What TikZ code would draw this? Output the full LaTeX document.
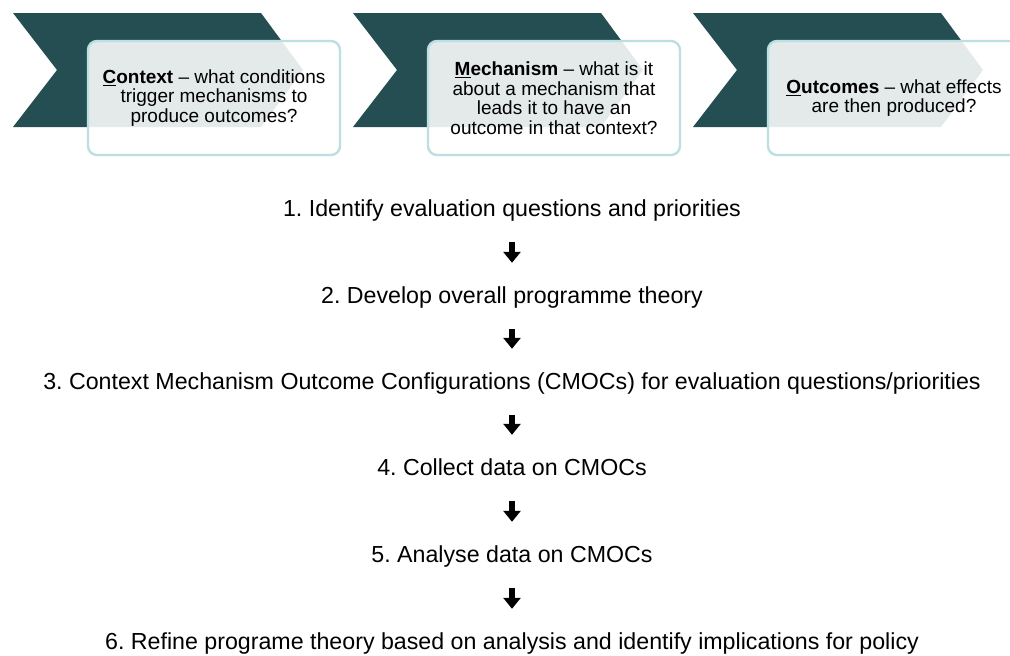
\documentclass[tikz,border=0pt]{standalone}
\usepackage{fontspec}
\setmainfont{Liberation Sans}
\usetikzlibrary{arrows.meta}
\definecolor{chevteal}{HTML}{244E51}
\definecolor{boxrim}{HTML}{BCDFE2}
\frenchspacing

\begin{document}
\begin{tikzpicture}[x=1pt, y=-1pt,
    chevron/.style={fill=chevteal},
    cmobox/.style={draw=boxrim, line width=2.4pt, fill=white, fill opacity=0.88, text opacity=1,
        rounded corners=9pt, minimum width=252pt, minimum height=114pt, align=center,
        font=\fontsize{19}{19.5}\selectfont},
    stepnode/.style={inner sep=0pt, text height=16pt, text depth=4pt, font=\fontsize{23.2}{26}\selectfont},
    steparrow/.style={line width=6pt, -{Triangle[width=17pt, length=11pt]}, shorten <=22pt, shorten >=24pt}]

    \clip (0,0) rectangle (1010,656);
    \fill[white] (0,0) rectangle (1010,656);

    \fill[chevron] (13,13) -- (261,13) -- (303,70) -- (261,127) -- (13,127) -- (57,70) -- cycle;
    \fill[chevron] (353,13) -- (601,13) -- (643,70) -- (601,127) -- (353,127) -- (397,70) -- cycle;
    \fill[chevron] (693,13) -- (941,13) -- (983,70) -- (941,127) -- (693,127) -- (737,70) -- cycle;

    \node[cmobox] (context) at (214,98) {\textbf{\underline{C}ontext} -- what conditions\\trigger mechanisms to\\produce outcomes?};
    \node[cmobox] (mechanism) at (554,98) {\textbf{\underline{M}echanism} -- what is it\\about a mechanism that\\leads it to have an\\outcome in that context?};
    \node[cmobox] (outcomes) at (894,98) {\textbf{\underline{O}utcomes} -- what effects\\are then produced?};

    \node[stepnode] (s1) at (512,210) {1. Identify evaluation questions and priorities};
    \node[stepnode] (s2) at (512,297) {2. Develop overall programme theory};
    \node[stepnode] (s3) at (512,383) {3. Context Mechanism Outcome Configurations (CMOCs) for evaluation questions/priorities};
    \node[stepnode] (s4) at (512,469) {4. Collect data on CMOCs};
    \node[stepnode] (s5) at (512,556) {5. Analyse data on CMOCs};
    \node[stepnode] (s6) at (512,643) {6. Refine programe theory based on analysis and identify implications for policy};

    \draw[steparrow] (s1) -- (s2);
    \draw[steparrow] (s2) -- (s3);
    \draw[steparrow] (s3) -- (s4);
    \draw[steparrow] (s4) -- (s5);
    \draw[steparrow] (s5) -- (s6);
\end{tikzpicture}
\end{document}
